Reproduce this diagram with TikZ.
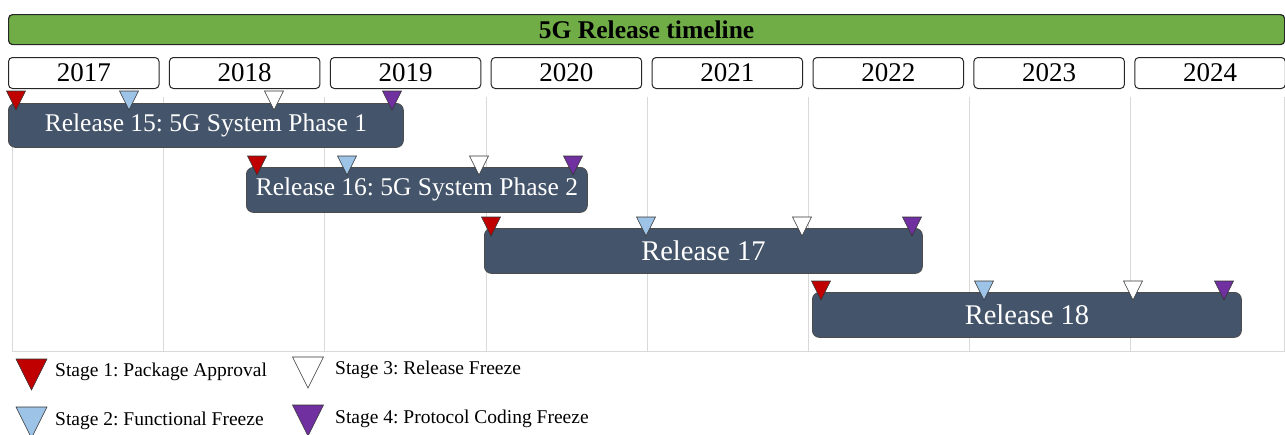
\documentclass[tikz,border=0pt]{standalone}
\usepackage{fontspec}
\setmainfont{Liberation Serif}
\frenchspacing

\definecolor{titlegreen}{HTML}{70AD47}
\definecolor{barfill}{HTML}{44546A}
\definecolor{stred}{HTML}{C00000}
\definecolor{stblue}{HTML}{9DC3E6}
\definecolor{stpurple}{HTML}{7030A0}
\definecolor{gridgray}{HTML}{D9D9D9}

\begin{document}
\begin{tikzpicture}[x=1pt, y=-1pt,
  titlebar/.style={draw=black!85, line width=1.2pt, fill=titlegreen, rounded corners=4pt,
    minimum width=1276pt, minimum height=30pt, inner sep=0pt, anchor=north west,
    font=\fontsize{25.5}{28}\selectfont\bfseries},
  yearbox/.style={draw=black!85, line width=1pt, fill=white, rounded corners=4pt,
    minimum width=150.5pt, minimum height=31pt, inner sep=0pt, anchor=north west,
    font=\fontsize{27}{30}\selectfont},
  relbar/.style={draw=black!70, line width=0.8pt, fill=barfill, rounded corners=7pt,
    text=white, inner sep=0pt, anchor=north west},
  gridline/.style={draw=gridgray, line width=1pt},
  marker/.style={draw=black!80, line width=0.6pt, line join=miter},
  legendtext/.style={anchor=base west, inner sep=0pt, font=\fontsize{19.5}{22}\selectfont},
  pics/mark/.style 2 args={code={
    \draw[marker, fill=#1] (-#2/2,0) -- (#2/2,0) -- (0,#2) -- cycle;}},
  pics/bigmark/.style={code={
    \draw[marker, fill=#1] (-15.5,0) -- (15.5,0) -- (0,31) -- cycle;}},
]
\useasboundingbox (0,0) rectangle (1285,434);

% background grid
\foreach \gx in {12,163,324,486,647,808,969,1130,1284}
  \draw[gridline] (\gx,97) -- (\gx,351);
\draw[gridline] (12,351) -- (1285,351);

% heading and year row
\node[titlebar] (title) at (8,14) {5G Release timeline};
\foreach \yr [count=\i from 0] in {2017,2018,2019,2020,2021,2022,2023,2024}
  \node[yearbox] (y\yr) at ({8+160.9*\i},57) {\yr};

% release bars
\node[relbar, minimum width=395pt, minimum height=44pt, font=\fontsize{25.5}{28}\selectfont]
  (r15) at (8,103) {Release 15: 5G System Phase 1};
\node[relbar, minimum width=341pt, minimum height=45pt, font=\fontsize{25.5}{28}\selectfont]
  (r16) at (246,167) {Release 16: 5G System Phase 2};
\node[relbar, minimum width=438pt, minimum height=45pt, font=\fontsize{28.5}{31}\selectfont]
  (r17) at (484,228) {Release 17};
\node[relbar, minimum width=429pt, minimum height=45pt, font=\fontsize{28.5}{31}\selectfont]
  (r18) at (812,292) {Release 18};

% stage markers on each release
\pic at (16,91)   {mark={stred}{19}};
\pic at (129,91)  {mark={stblue}{19}};
\pic at (274,91)  {mark={white}{19}};
\pic at (392,91)  {mark={stpurple}{19}};

\pic at (257,156) {mark={stred}{19}};
\pic at (347,156) {mark={stblue}{19}};
\pic at (479,156) {mark={white}{19}};
\pic at (573,156) {mark={stpurple}{19}};

\pic at (491,217) {mark={stred}{19}};
\pic at (646,217) {mark={stblue}{19}};
\pic at (802,217) {mark={white}{19}};
\pic at (912,217) {mark={stpurple}{19}};

\pic at (821,281) {mark={stred}{19}};
\pic at (984,281) {mark={stblue}{19}};
\pic at (1133,281) {mark={white}{19}};
\pic at (1224,281) {mark={stpurple}{19}};

% legend
\pic at (31.5,359) {bigmark=stred};
\pic at (308,357)  {bigmark=white};
\pic at (31.5,407) {bigmark=stblue};
\pic at (308,405)  {bigmark=stpurple};
\node[legendtext] (l1) at (55,376)  {Stage 1: Package Approval};
\node[legendtext] (l3) at (335,374) {Stage 3: Release Freeze};
\node[legendtext] (l2) at (55,425)  {Stage 2: Functional Freeze};
\node[legendtext] (l4) at (335,423) {Stage 4: Protocol Coding Freeze};
\end{tikzpicture}
\end{document}
